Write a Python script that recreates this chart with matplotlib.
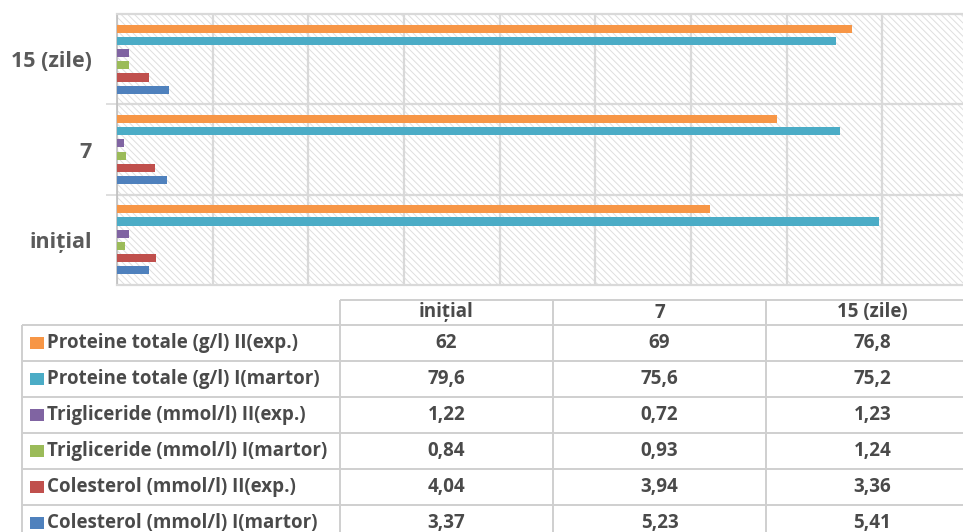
import matplotlib
matplotlib.use("Agg")
import matplotlib.pyplot as plt
from matplotlib.patches import Rectangle
import numpy as np

# ---------------- data ----------------
categories = ["inițial", "7", "15 (zile)"]
series_names = [
    "Proteine totale (g/l) II(exp.)",
    "Proteine totale (g/l) I(martor)",
    "Trigliceride (mmol/l) II(exp.)",
    "Trigliceride (mmol/l) I(martor)",
    "Colesterol (mmol/l) II(exp.)",
    "Colesterol (mmol/l) I(martor)",
]
proteine_exp = [62, 69, 76.8]
proteine_martor = [79.6, 75.6, 75.2]
triglic_exp = [1.22, 0.72, 1.23]
triglic_martor = [0.84, 0.93, 1.24]
colest_exp = [4.04, 3.94, 3.36]
colest_martor = [3.37, 5.23, 5.41]
series_values = [proteine_exp, proteine_martor, triglic_exp,
                 triglic_martor, colest_exp, colest_martor]
colors = ["#F79646", "#4BACC6", "#8064A2", "#9BBB59", "#C0504D", "#4F81BD"]

FONT = "Open Sans"
TXT = "#4a4a4a"
GRID = "#d9d9d9"

plt.rcParams["hatch.linewidth"] = 0.7

W, H = 963, 532
fig = plt.figure(figsize=(W / 100, H / 100), dpi=100)
fig.patch.set_facecolor("white")

# ---------------- chart ----------------
x0, x1, y_top, y_bot = 117, 978, 14, 285
ax = fig.add_axes([x0 / W, 1 - y_bot / H, (x1 - x0) / W, (y_bot - y_top) / H])
ax.set_xlim(0, 90)
ax.set_ylim(-0.5, 2.5)

bg = Rectangle((0, 0), 1, 1, transform=ax.transAxes, facecolor="white",
               edgecolor="#dedede", linewidth=0, hatch="\\\\\\\\\\", zorder=0.1)
ax.add_patch(bg)

ypos = np.arange(len(categories))
step = 0.135
bh = 0.09
for i, (vals, c) in enumerate(zip(series_values, colors)):
    off = (2.5 - i) * step
    ax.barh(ypos + off, vals, height=bh, color=c, zorder=3)

ax.set_xticks(np.arange(0, 91, 10))
ax.set_xticklabels([])
ax.tick_params(axis="x", length=0)
ax.set_yticks(ypos)
ax.set_yticklabels(categories, fontfamily=FONT, fontweight="bold",
                   fontsize=15.5, color="#5a5a5a")
ax.tick_params(axis="y", which="major", length=0, pad=18)
ax.set_yticks([0.5, 1.5], minor=True)
ax.tick_params(axis="y", which="minor", length=8, width=1.2, color=GRID,
               direction="out")
ax.set_axisbelow(True)
ax.grid(axis="x", which="major", color=GRID, lw=1.6, zorder=0.5)
ax.grid(axis="y", which="minor", color=GRID, lw=1.6, zorder=0.5)
for s in ["top", "bottom"]:
    ax.spines[s].set_color(GRID)
    ax.spines[s].set_linewidth(1.6)
ax.spines["left"].set_color("#bfbfbf")
ax.spines["left"].set_linewidth(1.2)
ax.spines["right"].set_visible(False)

# ---------------- data table ----------------
tax = fig.add_axes([0, 0, 1, 1], zorder=5)
tax.set_xlim(0, W)
tax.set_ylim(H, 0)
tax.axis("off")
tax.patch.set_alpha(0)

LC = "#cfcfcf"
LW = 1.4
tbl_left, lab_right = 22, 340
col_w = 213
col_edges = [lab_right + k * col_w for k in range(len(categories) + 1)]
head_top, head_bot = 300, 325
row_h = 36
nrows = len(series_names)
row_edges = [head_bot + k * row_h for k in range(nrows + 1)]
bottom = row_edges[-1]

tax.hlines(head_top, lab_right, col_edges[-1], color=LC, lw=LW)
for yy in row_edges:
    tax.hlines(yy, tbl_left, col_edges[-1], color=LC, lw=LW)
tax.vlines(tbl_left, head_bot, bottom, color=LC, lw=LW)
for xx in col_edges:
    tax.vlines(xx, head_top, bottom, color=LC, lw=LW)

FS = 13.5
for k, cat in enumerate(categories):
    cx = (col_edges[k] + col_edges[k + 1]) / 2
    tax.text(cx, (head_top + head_bot) / 2, cat, ha="center", va="center",
             fontfamily=FONT, fontsize=FS, color=TXT, fontweight="bold")

def fmt(v):
    return f"{v:g}".replace(".", ",")

for r, (name, vals, c) in enumerate(zip(series_names, series_values, colors)):
    cy = (row_edges[r] + row_edges[r + 1]) / 2
    tax.add_patch(Rectangle((30, cy - 6), 14, 12, facecolor=c, edgecolor="none"))
    tax.text(47, cy, name, ha="left", va="center", fontfamily=FONT,
             fontsize=FS, color=TXT, fontweight="bold")
    for k, v in enumerate(vals):
        cx = (col_edges[k] + col_edges[k + 1]) / 2
        tax.text(cx, cy, fmt(v), ha="center", va="center",
                 fontfamily=FONT, fontsize=FS, color=TXT, fontweight="bold")

fig.savefig("out.png", dpi=100)
